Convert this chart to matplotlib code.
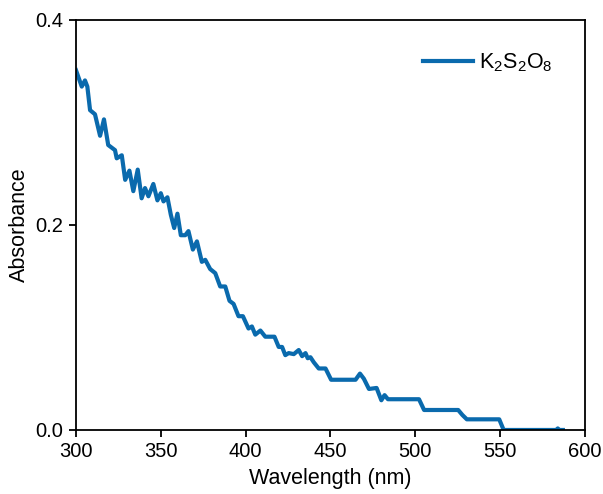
import matplotlib
matplotlib.use("Agg")
import matplotlib.pyplot as plt

# spectrum
wavelength = [300, 303.4, 305.3, 306.7, 308.3, 311.2, 314.2, 316.5, 319, 323, 324, 327,
              329, 331.5, 333.8, 336.4, 338.7, 340.7, 342.7, 345.6, 348, 350, 351.6,
              353.9, 355.9, 357.9, 359.8, 361.8, 364.4, 366.3, 368.9, 371.3, 374.2,
              376.2, 379.1, 382.1, 385, 388, 390.5, 392.9, 395.8, 398.4, 401.7, 403.7,
              405.7, 408.7, 411.6, 417, 419.5, 421.5, 423.4, 425.4, 428.4, 431.3, 433.3,
              435.3, 436.6, 438.2, 440.2, 443.1, 447.1, 450.4, 464.8, 467.4, 469.7,
              472.7, 477.2, 480, 481.9, 483.9, 502.2, 505.2, 525.3, 527.8, 530.4,
              549.5, 552.1, 583, 584, 585, 587]
absorbance = [0.351, 0.335, 0.341, 0.335, 0.312, 0.308, 0.287, 0.303, 0.278, 0.273, 0.265,
              0.268, 0.244, 0.253, 0.233, 0.254, 0.226, 0.236, 0.228, 0.240, 0.224, 0.231,
              0.223, 0.227, 0.210, 0.197, 0.211, 0.190, 0.190, 0.194, 0.176, 0.184,
              0.164, 0.166, 0.157, 0.153, 0.140, 0.140, 0.126, 0.123, 0.111, 0.111,
              0.099, 0.101, 0.093, 0.097, 0.091, 0.091, 0.081, 0.081, 0.073, 0.075,
              0.074, 0.078, 0.072, 0.075, 0.070, 0.071, 0.066, 0.060, 0.060, 0.049,
              0.049, 0.055, 0.050, 0.040, 0.041, 0.029, 0.034, 0.030, 0.030, 0.0195,
              0.0195, 0.0146, 0.0104, 0.0104, 0.0, 0.0, 0.0015, 0.0, 0.0]

plt.rcParams['font.family'] = ['Liberation Sans', 'DejaVu Sans']
plt.rcParams['font.size'] = 15.5
plt.rcParams['mathtext.default'] = 'regular'

fig = plt.figure(figsize=(6.03, 4.94), dpi=100)
ax = fig.add_axes([0.126, 0.1296, 0.844, 0.83])

ax.plot(wavelength, absorbance, color='#0a6aad', lw=3, label=r'K$_2$S$_2$O$_8$')

ax.set_xlim(300, 600)
ax.set_ylim(0, 0.4)
ax.set_xticks([300, 350, 400, 450, 500, 550, 600])
ax.set_yticks([0.0, 0.2, 0.4])
ax.set_yticklabels(['0.0', '0.2', '0.4'])
ax.tick_params(direction='out', width=1.3, length=5, pad=4, labelsize=14.5)
for s in ax.spines.values():
    s.set_linewidth(1.3)

ax.set_xlabel('Wavelength (nm)', labelpad=5)
ax.set_ylabel('Absorbance', labelpad=4)
ax.legend(loc='upper right', frameon=False, fontsize=15.5, handlelength=2.3,
          handletextpad=0.3, bbox_to_anchor=(0.975, 0.97))

fig.savefig('out.png', dpi=100)
